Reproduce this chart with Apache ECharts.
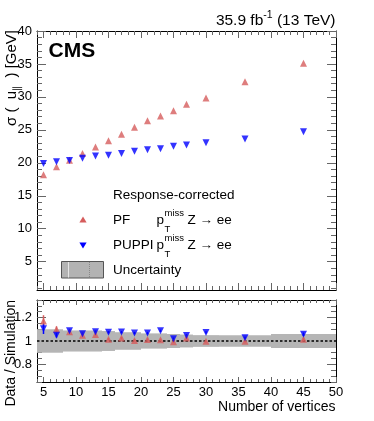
<!DOCTYPE html>
<html><head><meta charset="utf-8">
<script src="https://cdn.jsdelivr.net/npm/echarts@6.0.0/dist/echarts.min.js"></script>
<style>html,body{margin:0;padding:0;background:#fff}#c{width:374px;height:421px}</style>
</head><body><div id="c"></div>
<script>
// ---------- data ----------
const nVertices   = [5, 7, 9, 11, 13, 15, 17, 19, 21, 23, 25, 27, 30, 36, 45];
const pfSigma     = [18.2, 19.4, 20.4, 21.4, 22.4, 23.35, 24.35, 25.4, 26.4, 27.1, 27.9, 28.9, 29.85, 32.3, 35.1];
const puppiSigma  = [19.9, 20.15, 20.35, 20.7, 21.05, 21.15, 21.4, 21.75, 22.0, 22.15, 22.5, 22.7, 23.05, 23.6, 24.7];
const pfRatio     = [1.17, 1.10, 1.08, 1.05, 1.055, 1.015, 1.025, 1.005, 1.012, 1.01, 0.993, 1.025, 0.997, 0.997, 1.015];
const puppiRatio  = [1.105, 1.05, 1.088, 1.062, 1.08, 1.075, 1.076, 1.068, 1.068, 1.087, 1.02, 1.048, 1.073, 1.027, 1.058];
const pfRatioErr    = [0.05, 0.025, 0.012, 0.01, 0.01, 0.01, 0.01, 0.01, 0.01, 0.01, 0.01, 0.01, 0.01, 0.01, 0.015];
const puppiRatioErr = [0.045, 0.02, 0.01, 0.01, 0.01, 0.01, 0.01, 0.01, 0.01, 0.01, 0.01, 0.01, 0.01, 0.01, 0.015];
const binLow      = [4, 6, 8, 10, 12, 14, 16, 18, 20, 22, 24, 26, 28, 32, 40];
const binHigh     = [6, 8, 10, 12, 14, 16, 18, 20, 22, 24, 26, 28, 32, 40, 50];
const uncHalf     = [0.10, 0.10, 0.09, 0.09, 0.09, 0.085, 0.075, 0.075, 0.065, 0.065, 0.06, 0.055, 0.05, 0.05, 0.06];
const xTickLabels     = [5, 10, 15, 20, 25, 30, 35, 40, 45, 50];
const yTickLabels     = [5, 10, 15, 20, 25, 30, 35, 40];
const ratioTickLabels = [0.8, 1.0, 1.2];

// ---------- helpers ----------
const FONT = '"Liberation Sans", Arial, Helvetica, sans-serif';
const RED = '#d65c5c', BLUE = '#0000ff';
const TICKC = '#666';
function range(a, b, step) { const r = []; for (let v = a; v <= b + 1e-9; v += step) r.push(Math.round(v * 1000) / 1000); return r; }

function makeAxes(dim, gridIndex, min, max, major, minor, majLen, minLen, showLabels, fmt) {
  const p0 = dim === 'x' ? 'bottom' : 'left';
  const p1 = dim === 'x' ? 'top' : 'right';
  const base = () => ({
    type: 'value', gridIndex, min, max, silent: true,
    splitLine: { show: false }, splitArea: { show: false },
    axisLine: { show: false, onZero: false },
    axisTick: { show: false }, axisLabel: { show: false }
  });
  const A = base(); A.position = p0;
  A.axisLine = { show: true, onZero: false, lineStyle: { color: '#000', width: 1 } };
  A.axisTick = { show: true, inside: true, length: majLen, customValues: major, lineStyle: { color: TICKC, width: 1 } };
  A.axisLabel = { show: showLabels, customValues: major, fontSize: 13, fontFamily: FONT, color: '#000', margin: dim === 'x' ? 4 : 5, formatter: fmt };
  const B = base(); B.position = p1;
  B.axisLine = { show: true, onZero: false, lineStyle: { color: '#000', width: 1 } };
  B.axisTick = { show: true, inside: true, length: majLen, customValues: major, lineStyle: { color: TICKC, width: 1 } };
  const C = base(); C.position = p0;
  C.axisTick = { show: true, inside: true, length: minLen, customValues: minor, lineStyle: { color: TICKC, width: 1 } };
  const D = base(); D.position = p1;
  D.axisTick = { show: true, inside: true, length: minLen, customValues: minor, lineStyle: { color: TICKC, width: 1 } };
  return [A, B, C, D];
}

const fmtNum = v => String(Math.round(v * 100) / 100);

const xMinor = range(4, 50, 1);
const yMinor = range(1, 40, 1);
const rMinor = range(0.65, 1.35, 0.05);

const xAxes = [].concat(
  makeAxes('x', 0, 4, 50, xTickLabels, xMinor, 7, 4, false, fmtNum),
  makeAxes('x', 1, 4, 50, xTickLabels, xMinor, 5, 3, true, fmtNum)
);
const yAxes = [].concat(
  makeAxes('y', 0, 0.7, 40, yTickLabels, yMinor, 9, 5, true, fmtNum),
  makeAxes('y', 1, 0.65, 1.35, ratioTickLabels, rMinor, 9, 5, true, fmtNum)
);

// ---------- text measurement ----------
const cv = document.createElement('canvas').getContext('2d');
function tw(t, size, bold) { cv.font = (bold ? 'bold ' : '') + size + 'px ' + FONT; return cv.measureText(t).width; }
function txt(x, y, t, size, opts) {
  opts = opts || {};
  return {
    type: 'text', x, y, rotation: opts.rot || 0, silent: true, z: 100,
    style: {
      text: t, fill: '#000',
      font: (opts.bold ? 'bold ' : '') + size + 'px ' + FONT,
      align: opts.align || 'left', textAlign: opts.align || 'left',
      verticalAlign: 'middle', textVerticalAlign: 'middle'
    }
  };
}

const graphics = [];
// header
(function () {
  const s = 15.5, ss = 10.5, right = 335.5;
  const b = ' (13 TeV)', sup = '-1', a = '35.9 fb';
  const wb = tw(b, s), ws = tw(sup, ss), wa = tw(a, s);
  const xb = right - wb, xs = xb - ws, xa = xs - wa;
  graphics.push(txt(xa, 21, a, s), txt(xs, 15.5, sup, ss), txt(xb, 21, b, s));
})();
// CMS
graphics.push(txt(48.5, 51.5, 'CMS', 21, { bold: true }));
// y title (top pad), rotated
(function () {
  const s = 15, ss = 10;
  const p1 = 'σ (  u', p2 = '∥', p3 = '  ) [GeV]';
  const w1 = tw(p1, s), w2 = tw(p2, ss), w3 = tw(p3, s);
  const top = 30;
  const y0 = top + w1 + w2 + w3;
  graphics.push(txt(11.5, y0, p1, s, { rot: Math.PI / 2 }));
  graphics.push(txt(17.5, y0 - w1, p2, ss, { rot: Math.PI / 2 }));
  graphics.push(txt(11.5, y0 - w1 - w2, p3, s, { rot: Math.PI / 2 }));
})();
// y title (ratio pad)
graphics.push(txt(11, 300, 'Data / Simulation', 14, { rot: Math.PI / 2, align: 'right' }));
// x title
graphics.push(txt(335.5, 407, 'Number of vertices', 14, { align: 'right' }));
// legend
(function () {
  const s = 13.5, ss = 9.5, lx = 113;
  graphics.push(txt(lx, 195, 'Response-corrected', s));
  const rows = [
    { y: 220, lab: 'PF', color: RED, up: true },
    { y: 245, lab: 'PUPPI', color: BLUE, up: false }
  ];
  rows.forEach(r => {
    const cx = 83, h = 3.5;
    const pts = r.up ? [[cx, r.y - h], [cx + 3.6, r.y + 2.6], [cx - 3.6, r.y + 2.6]]
                     : [[cx, r.y + h], [cx + 3.6, r.y - 2.6], [cx - 3.6, r.y - 2.6]];
    graphics.push({ type: 'polygon', silent: true, z: 100, shape: { points: pts }, style: { fill: r.color } });
    graphics.push(txt(lx, r.y, r.lab, s));
    const px = 156.5;
    graphics.push(txt(px, r.y, 'p', s));
    const pw = tw('p', s);
    graphics.push(txt(px + pw + 0.5, r.y - 6.5, 'miss', ss));
    graphics.push(txt(px + pw + 0.5, r.y + 9, 'T', ss));
    graphics.push(txt(187.5, r.y, 'Z → ee', s));
  });
  graphics.push({ type: 'rect', silent: true, z: 100, shape: { x: 61.5, y: 261.5, width: 42, height: 16.5 },
    style: { fill: '#b3b3b3', stroke: '#555', lineWidth: 1 } });
  graphics.push({ type: 'line', silent: true, z: 101, shape: { x1: 68.5, y1: 262, x2: 68.5, y2: 277.5 }, style: { stroke: '#e6e6e6', lineWidth: 1 } });
  graphics.push({ type: 'line', silent: true, z: 101, shape: { x1: 89.5, y1: 262, x2: 89.5, y2: 277.5 }, style: { stroke: '#888', lineWidth: 1, lineDash: [1, 1] } });
  graphics.push(txt(lx, 270, 'Uncertainty', s));
})();

// ---------- series ----------
const pfTop = nVertices.map((x, i) => [x, pfSigma[i]]);
const puTop = nVertices.map((x, i) => [x, puppiSigma[i]]);
const pfR = nVertices.map((x, i) => [x, pfRatio[i], pfRatioErr[i]]);
const puR = nVertices.map((x, i) => [x, puppiRatio[i], puppiRatioErr[i]]);
const band = binLow.map((lo, i) => [lo, binHigh[i], 1 + uncHalf[i], 1 - uncHalf[i]]);

function errBars(data, color, zz) {
  return {
    type: 'custom', xAxisIndex: 4, yAxisIndex: 4, z: zz, silent: true,
    data, encode: { x: 0, y: 1 },
    renderItem: (params, api) => {
      const x = api.value(0), y = api.value(1), e = api.value(2);
      const a = api.coord([x, y + e]), b = api.coord([x, y - e]);
      return { type: 'line', shape: { x1: a[0], y1: a[1], x2: b[0], y2: b[1] }, style: { stroke: color, lineWidth: 1.5 } };
    }
  };
}

const option = {
  animation: false,
  backgroundColor: '#fff',
  grid: [
    { left: 37, right: 38, top: 31, height: 259, containLabel: false },
    { left: 37, right: 38, top: 300, height: 82, containLabel: false }
  ],
  xAxis: xAxes,
  yAxis: yAxes,
  graphic: graphics,
  series: [
    { type: 'scatter', xAxisIndex: 0, yAxisIndex: 0, data: pfTop, symbol: 'triangle', symbolSize: 7,
      itemStyle: { color: RED }, z: 5, silent: true },
    { type: 'scatter', xAxisIndex: 0, yAxisIndex: 0, data: puTop, symbol: 'triangle', symbolRotate: 180, symbolSize: 7,
      itemStyle: { color: BLUE }, z: 5, silent: true },
    {
      type: 'custom', xAxisIndex: 4, yAxisIndex: 4, z: 1, silent: true,
      data: band, encode: { x: [0, 1], y: [2, 3] },
      renderItem: (params, api) => {
        const a = api.coord([api.value(0), api.value(2)]);
        const b = api.coord([api.value(1), api.value(3)]);
        return { type: 'rect', shape: { x: a[0], y: a[1], width: b[0] - a[0], height: b[1] - a[1] },
          style: { fill: '#b5b5b5' } };
      }
    },
    errBars(pfR, RED, 3),
    errBars(puR, BLUE, 4),
    { type: 'scatter', xAxisIndex: 4, yAxisIndex: 4, data: pfR, symbol: 'triangle', symbolSize: 7,
      itemStyle: { color: RED }, z: 5, silent: true,
      markLine: { silent: true, symbol: 'none', z: 2, label: { show: false },
        lineStyle: { color: '#000', type: [2.5, 2], width: 1.6 },
        data: [{ yAxis: 1 }] } },
    { type: 'scatter', xAxisIndex: 4, yAxisIndex: 4, data: puR, symbol: 'triangle', symbolRotate: 180, symbolSize: 7,
      itemStyle: { color: BLUE }, z: 6, silent: true }
  ]
};

const chart = echarts.init(document.getElementById('c'), null, { renderer: 'canvas' });
chart.setOption(option);
</script>
</body></html>
